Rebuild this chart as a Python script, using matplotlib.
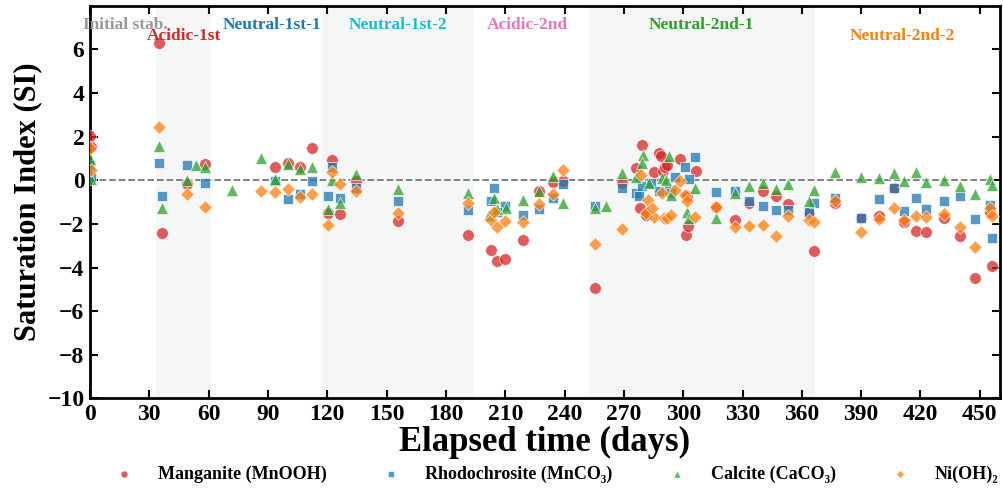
import matplotlib
matplotlib.use("Agg")
import matplotlib.pyplot as plt

plt.rcParams['font.family'] = ['Liberation Serif', 'DejaVu Serif']
plt.rcParams['font.weight'] = 'bold'
plt.rcParams['mathtext.fontset'] = 'stix'

# ---------------- data ----------------
mn_days = [0, 0.5, 35, 36.2, 49, 58.2, 93.4, 100.4, 106.4, 112.5, 122.6, 120.4, 126.6, 134.3, 155.6,
           191, 202.9, 206, 210, 219.2, 227.3, 234, 239, 255.4, 269, 276, 278.3, 279.4, 281, 285.4,
           288, 289, 290, 291, 292, 298.5, 302, 301.4, 302.2, 306.4, 316.5, 326, 333.3, 340.4, 347,
           353.2, 363.6, 366.3, 377, 390, 399, 406.6, 411.6, 417.5, 423, 432, 440, 447.8, 455.4, 456]
mn_si = [2.04, 1.55, 6.3, -2.4, -0.16, 0.74, 0.59, 0.79, 0.6, 1.48, 0.94, -1.5, -1.55, -0.02, -1.86,
         -2.53, -3.2, -3.72, -3.59, -2.74, -0.51, -0.08, -0.05, -4.93, -0.13, 0.56, -1.29, 1.64, -1.58, 0.4,
         1.25, 1.12, 0.45, 0.63, 0.7, 0.97, -0.74, -2.5, -2.09, 0.45, -1.23, -1.81, -1.05, -0.47, -0.71,
         -1.08, -1.5, -3.22, -1.02, -1.73, -1.63, -0.36, -1.89, -2.32, -2.38, -1.74, -2.55, -4.5, -1.47, -3.95]

rh_days = [0, 0.5, 35, 36.2, 49, 58.2, 93.4, 100.4, 106.4, 112.5, 122.6, 120.4, 126.6, 134.3, 155.6,
           191, 204.5, 202.9, 210, 206, 219.2, 227.3, 234, 239, 255.4, 269, 276, 277.7, 279.4, 283.7,
           288, 293, 296, 301, 306, 303, 293.8, 316.5, 326, 333.3, 340.4, 347, 353.2, 363.6, 366.3,
           377, 390, 399, 406.6, 411.6, 417.5, 423, 432, 440, 447.8, 455.4, 456]
rh_si = [0.68, 0.15, 0.79, -0.71, 0.68, -0.1, -0.01, -0.85, -0.63, -0.05, 0.6, -0.71, -0.83, -0.36, -0.93,
         -1.35, -0.36, -0.97, -1.16, -1.43, -1.58, -1.32, -0.82, -0.17, -1.2, -0.36, -0.59, -0.74, -0.28, -0.13,
         -0.51, -0.44, 0.17, 0.63, 1.09, 0.05, -0.59, -0.53, -0.47, -0.94, -1.2, -1.35, -1.35, -1.47, -1.02,
         -0.82, -1.73, -0.85, -0.33, -1.4, -0.79, -1.31, -0.94, -0.71, -1.78, -1.12, -2.65]

ca_days = [0, 0.5, 35, 36.2, 49, 53.5, 58.2, 72, 86.4, 93.4, 100.4, 106.4, 112.5, 122.6, 120.4, 126.6,
           134.3, 155.6, 191, 204.5, 202, 210.4, 206, 219.2, 227.3, 234, 239, 255.4, 261, 269, 279.9,
           279.4, 292.6, 276, 282.8, 289.5, 291.5, 293.8, 301.7, 303, 306, 316.5, 326, 333.3, 340.4, 347,
           353.2, 363.6, 366.3, 377, 390, 399, 406.6, 411.6, 417.5, 423, 432, 440, 447.8, 455.4, 456]
ca_si = [0.99, 0.08, 1.58, -1.28, 0.0, 0.68, 0.63, -0.44, 1.02, 0.07, 0.74, 0.51, 0.6, 0.02, -1.32, -1.02,
         0.28, -0.4, -0.56, -0.82, -1.58, -1.25, -1.3, -0.9, -0.51, 0.2, -1.05, -1.28, -1.16, 0.33, 1.17,
         0.79, 1.12, 0.17, -0.13, 0.1, 0.0, -0.67, -1.43, -1.73, -0.36, -1.73, -0.59, -0.25, -0.13, -0.4,
         -0.16, -0.94, -0.44, 0.4, 0.17, 0.1, 0.33, -0.01, 0.4, -0.08, 0.02, -0.28, -0.62, 0.05, -0.21]

ni_days = [0, 0.5, 35, 49, 58.2, 86.4, 93.4, 100.4, 106.4, 112.5, 122.6, 126.6, 120.4, 134.3, 155.6,
           191, 202.9, 206, 204.5, 210, 219.2, 227.3, 234, 239, 255.4, 269, 278.5, 282.4, 285.4, 281,
           284, 289.5, 290.5, 292, 294, 296, 298.6, 301, 302, 306, 316.5, 326, 333.3, 340.4, 347, 353.2,
           363.6, 366.3, 377, 390, 399, 406.6, 411.6, 417.5, 423, 432, 440, 447.8, 455.4, 456]
ni_si = [1.48, 0.48, 2.44, -0.62, -1.23, -0.48, -0.53, -0.38, -0.77, -0.62, 0.4, -0.17, -2.07, -0.51, -1.48,
         -1.02, -1.81, -2.16, -1.43, -1.86, -1.93, -1.09, -0.63, 0.48, -2.91, -2.21, 0.25, -0.89, -1.66, -1.5,
         -1.27, -0.56, -1.73, -1.73, -1.58, -0.44, -0.05, -0.67, -0.97, -1.66, -1.23, -2.12, -2.09, -2.04,
         -2.55, -1.63, -1.81, -1.89, -0.94, -2.35, -1.78, -1.28, -1.81, -1.63, -1.69, -1.54, -2.15, -3.06,
         -1.28, -1.63]

series_labels = ['Manganite (MnOOH)', 'Rhodochrosite (MnCO₃)', 'Calcite (CaCO₃)', 'Ni(OH)₂']

phase_names = ['Initial stab.', 'Acidic-1st', 'Neutral-1st-1', 'Neutral-1st-2', 'Acidic-2nd',
               'Neutral-2nd-1', 'Neutral-2nd-2']
phase_label_x = [18, 47.5, 92, 156, 221, 309, 411]
phase_label_y = [7.13, 6.63, 7.13, 7.13, 7.13, 7.13, 6.63]
phase_colors = ['#999999', '#d62728', '#1f77b4', '#17becf', '#e377c2', '#2ca02c', '#ff7f0e']
shaded_spans = [(33.3, 61), (117.2, 194), (252.2, 366.7)]

x_ticks = list(range(0, 451, 30))
y_ticks = list(range(-10, 7, 2))

# ---------------- plot ----------------
fig = plt.figure(figsize=(10.04, 4.9), dpi=100)
ax = fig.add_axes([0.0896, 0.187, 0.906, 0.801])

for a, b in shaded_spans:
    ax.axvspan(a, b, color='#eef2f2', alpha=0.55, lw=0, zorder=0)

ax.axhline(0, color='#777777', ls='--', lw=1.3, zorder=1)

common = dict(alpha=0.75, edgecolors='white', linewidths=0.6, zorder=3)
ax.scatter(mn_days, mn_si, marker='o', s=72, color='#d62728', label=series_labels[0], **common)
ax.scatter(rh_days, rh_si, marker='s', s=62, color='#1f77b4', label=series_labels[1], **common)
ax.scatter(ca_days, ca_si, marker='^', s=75, color='#2ca02c', label=series_labels[2], **common)
ax.scatter(ni_days, ni_si, marker='D', s=48, color='#ff7f0e', label=series_labels[3], **common)

for name, xx, yy, c in zip(phase_names, phase_label_x, phase_label_y, phase_colors):
    ax.text(xx, yy, name, color=c, fontsize=12.5, fontweight='bold', ha='center', va='center',
            zorder=5, clip_on=False)

ax.set_xlim(0, 460)
ax.set_ylim(-10, 8)
ax.set_xticks(x_ticks)
ax.set_yticks(y_ticks)
ax.tick_params(direction='in', length=6, width=1.5, labelsize=17, top=True, right=True, pad=4)
for lab in ax.get_xticklabels() + ax.get_yticklabels():
    lab.set_fontweight('bold')
for sp in ax.spines.values():
    sp.set_linewidth(2)
    sp.set_color('black')

ax.set_xlabel('Elapsed time (days)', fontsize=25, fontweight='bold', labelpad=1)
ax.set_ylabel('Saturation Index (SI)', fontsize=22, fontweight='bold', labelpad=4)

leg = ax.legend(loc='upper center', bbox_to_anchor=(0.508, -0.13), ncol=4, frameon=False,
                markerscale=0.6, columnspacing=2.55, handletextpad=0.9,
                prop={'weight': 'bold', 'size': 13})

fig.savefig('out.png', dpi=100)
